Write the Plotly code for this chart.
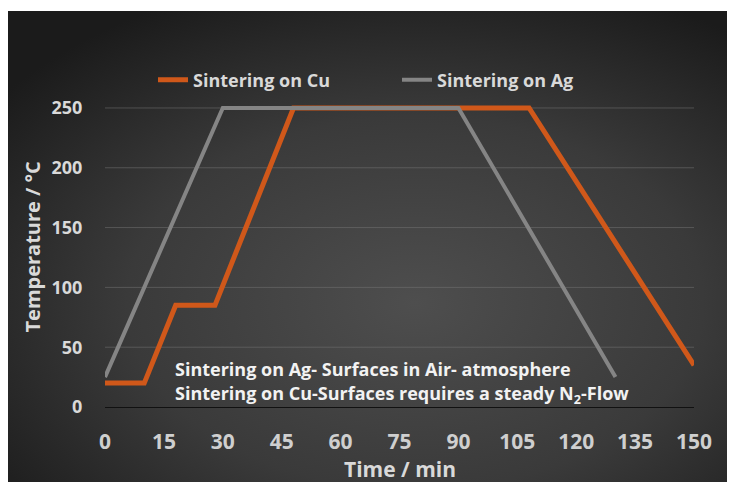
import base64
import plotly.graph_objects as go

# ---- data ----
cu_time = [0, 10, 18, 28, 48, 108, 150]
cu_temp = [20, 20, 85, 85, 250, 250, 35]
ag_time = [0, 30, 90, 130]
ag_temp = [25, 250, 250, 25]
x_ticks = [0, 15, 30, 45, 60, 75, 90, 105, 120, 135, 150]
y_ticks = [0, 50, 100, 150, 200, 250]

ORANGE = "#D0581A"
GRAY = "#858585"
FONT = "Open Sans"

W, H = 727, 474
L, R, T, B = 97, 41, 88, 75
pw, ph = W - L - R, H - T - B

# background gradient (dark radial) as inline svg
svg = (
    '<svg xmlns="http://www.w3.org/2000/svg" width="727" height="471">'
    '<defs><radialGradient id="g" cx="56%" cy="62%" r="72%">'
    '<stop offset="0%" stop-color="#4e4e4e"/>'
    '<stop offset="55%" stop-color="#3a3a3a"/>'
    '<stop offset="100%" stop-color="#1b1b1b"/>'
    '</radialGradient></defs>'
    '<rect width="727" height="471" fill="url(#g)"/></svg>'
)
src = "data:image/svg+xml;base64," + base64.b64encode(svg.encode()).decode()

fig = go.Figure()
fig.add_trace(go.Scatter(x=cu_time, y=cu_temp, mode="lines", name="Sintering on Cu",
                         line=dict(color=ORANGE, width=5)))
fig.add_trace(go.Scatter(x=ag_time, y=ag_temp, mode="lines", name="Sintering on Ag",
                         line=dict(color=GRAY, width=4)))

# gridlines
for v in y_ticks[1:]:
    fig.add_shape(type="line", xref="x", yref="y", x0=x_ticks[0], x1=x_ticks[-1], y0=v, y1=v,
                  line=dict(color="rgba(120,120,120,0.5)", width=1), layer="below")

fig.add_layout_image(dict(source=src, xref="paper", yref="paper",
                          x=(0 - L) / pw, y=(H - B - 3) / ph,
                          sizex=W / pw, sizey=471 / ph,
                          xanchor="left", yanchor="top", sizing="stretch", layer="below"))

fig.add_annotation(x=0.0, y=0, xref="x", yref="paper", xanchor="left", yanchor="middle",
                   text="<b>Sintering on Ag- Surfaces in Air- atmosphere</b>",
                   yshift=38, xshift=68, showarrow=False,
                   font=dict(family=FONT, size=18, color="#f2f2f2"))
fig.add_annotation(x=0.0, y=0, xref="x", yref="paper", xanchor="left", yanchor="middle",
                   text="<b>Sintering on Cu-Surfaces requires a steady N<sub>2</sub>-Flow</b>",
                   yshift=13, xshift=68, showarrow=False,
                   font=dict(family=FONT, size=18, color="#f2f2f2"))

# axis titles
fig.add_annotation(x=0.5, y=0, xref="paper", yref="paper", xanchor="center", yanchor="middle",
                   text="<b>Time / min</b>", yshift=-62, xshift=0, showarrow=False,
                   font=dict(family=FONT, size=21, color="#d9d9d9"))
fig.add_annotation(x=0, y=0.5, xref="paper", yref="paper", xanchor="center", yanchor="middle",
                   text="<b>Temperature / °C</b>", textangle=-90, xshift=-73, yshift=5,
                   showarrow=False, font=dict(family=FONT, size=20, color="#d9d9d9"))

fig.update_layout(
    width=W, height=H,
    margin=dict(l=L, r=R, t=T, b=B),
    paper_bgcolor="white", plot_bgcolor="rgba(0,0,0,0)",
    font=dict(family=FONT, color="#d9d9d9"),
    showlegend=True,
    legend=dict(orientation="h", x=(145 - L) / pw, y=(H - B - 72) / ph,
                xanchor="left", yanchor="middle", bgcolor="rgba(0,0,0,0)",
                entrywidth=199, entrywidthmode="pixels",
                font=dict(family=FONT, size=18, color="#d9d9d9", weight="bold")),
    xaxis=dict(range=[0, 150], tickvals=x_ticks, ticktext=[str(v) for v in x_ticks],
               showgrid=False, zeroline=False, showline=True, linecolor="#111111", linewidth=1,
               ticks="outside", ticklen=16, tickcolor="rgba(0,0,0,0)",
               tickfont=dict(family=FONT, size=21, color="#cfcfcf", weight="bold")),
    yaxis=dict(range=[0, 260], tickvals=y_ticks, showgrid=False, zeroline=False,
               ticks="outside", ticklen=18, tickcolor="rgba(0,0,0,0)",
               tickfont=dict(family=FONT, size=18, color="#d9d9d9", weight="bold")),
)

fig.write_html("out.html")
